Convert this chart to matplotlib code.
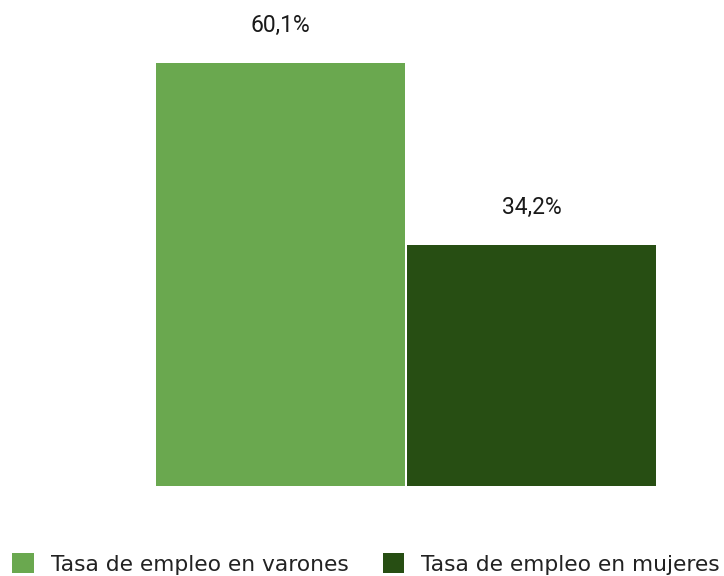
import matplotlib.pyplot as plt
from matplotlib.patches import Patch

categories = ['Tasa de empleo en varones', 'Tasa de empleo en mujeres']
values = [60.1, 34.2]
labels = ['60,1%', '34,2%']
colors = ['#6aa84f', '#274e13']

fig = plt.figure(figsize=(7.24, 5.76), dpi=100)
ax = fig.add_axes([155 / 724, 90 / 576, 502 / 724, 457.6 / 576])

x = [0, 1]
ax.bar(x, values, width=0.99, color=colors)
ax.set_xlim(-0.5, 1.5)
ax.set_ylim(0, 65)
ax.axis('off')

for xi, v, lab in zip(x, values, labels):
    ax.annotate(lab, (xi, v), xytext=(0, 27), textcoords='offset points',
                ha='center', va='center', fontsize=16.5, family='Roboto', color='#1a1a1a')

handles = [Patch(facecolor=c, label=cat) for c, cat in zip(colors, categories)]
fig.legend(handles=handles, loc='center left', bbox_to_anchor=(12 / 724, 12 / 576), ncol=2,
           frameon=False, prop={'family': 'DejaVu Sans', 'size': 15.7},
           borderpad=0, borderaxespad=0,
           handlelength=1.0, handleheight=1.0, handletextpad=0.78, columnspacing=1.56)
for t in fig.legends[0].get_texts():
    t.set_color('#222222')

fig.savefig('out.png', dpi=100)
